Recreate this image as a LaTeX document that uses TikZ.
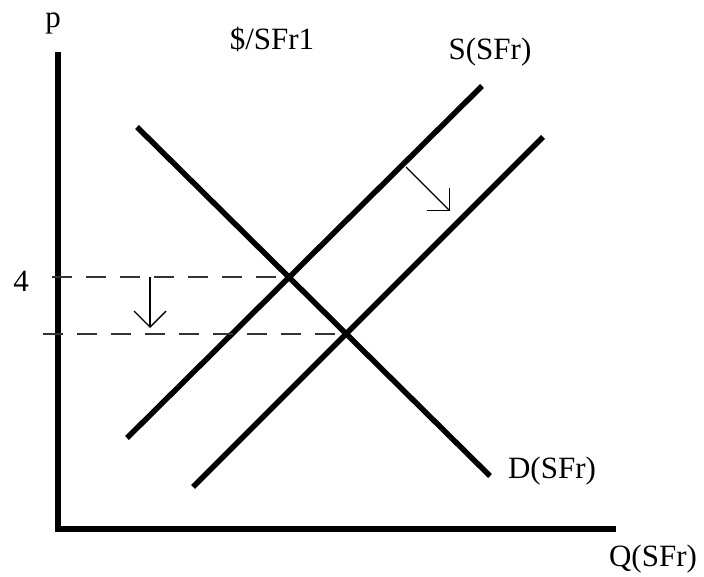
\documentclass[tikz,border=0pt]{standalone}
\usepackage{fontspec}
\setmainfont{Liberation Serif}
\usetikzlibrary{arrows.meta}
\begin{document}
\begin{tikzpicture}[x=1pt, y=-1pt,
  font=\fontsize{31}{36}\selectfont,
  lbl/.style={anchor=base, inner sep=0pt},
  curve/.style={line width=5.5pt},
  axis/.style={line width=6pt},
  guide/.style={line width=1.7pt, black!80, dash pattern=on 20pt off 14pt},
  move/.style={line width=1.4pt, -{Straight Barb[length=16pt, width=32pt]}}]
\useasboundingbox (0,0) rectangle (704,577);
% axes
\coordinate (top) at (58,52);
\coordinate (orig) at (58,529);
\coordinate (right) at (616,529);
\draw[axis, line join=miter] (top) -- (orig) -- (right);
% demand and the two supply curves
\coordinate (d1) at (137,127);
\coordinate (d2) at (490,476);
\coordinate (s1a) at (127,438);
\coordinate (s1b) at (482,86);
\coordinate (s2a) at (193,487);
\coordinate (s2b) at (543,137);
\draw[curve] (d1) -- (d2);
\draw[curve] (s1a) -- (s1b);
\draw[curve] (s2a) -- (s2b);
\coordinate (eq1) at (intersection of d1--d2 and s1a--s1b);
\coordinate (eq2) at (intersection of d1--d2 and s2a--s2b);
% price guides
\coordinate (g1) at (52,0);
\coordinate (g2) at (43,0);
\draw[guide] (g1 |- eq1) -- (eq1);
\draw[guide] (g2 |- eq2) -- (eq2);
% shift arrows
\coordinate (a1) at (150,277);
\coordinate (a2) at (150,328);
\coordinate (b1) at (406,167);
\coordinate (b2) at (450,211);
\draw[move] (a1) -- (a2);
\draw[move] (b1) -- (b2);
% labels
\node[lbl] (plbl) at (53,28) {p};
\node[lbl] (rate) at (272,50) {\$/SFr1};
\node[lbl] (slbl) at (490,60) {S(SFr)};
\node[lbl] (dlbl) at (552,478) {D(SFr)};
\node[lbl] (qlbl) at (653,566) {Q(SFr)};
\node[lbl] (four) at (21,292) {4};
\end{tikzpicture}
\end{document}
